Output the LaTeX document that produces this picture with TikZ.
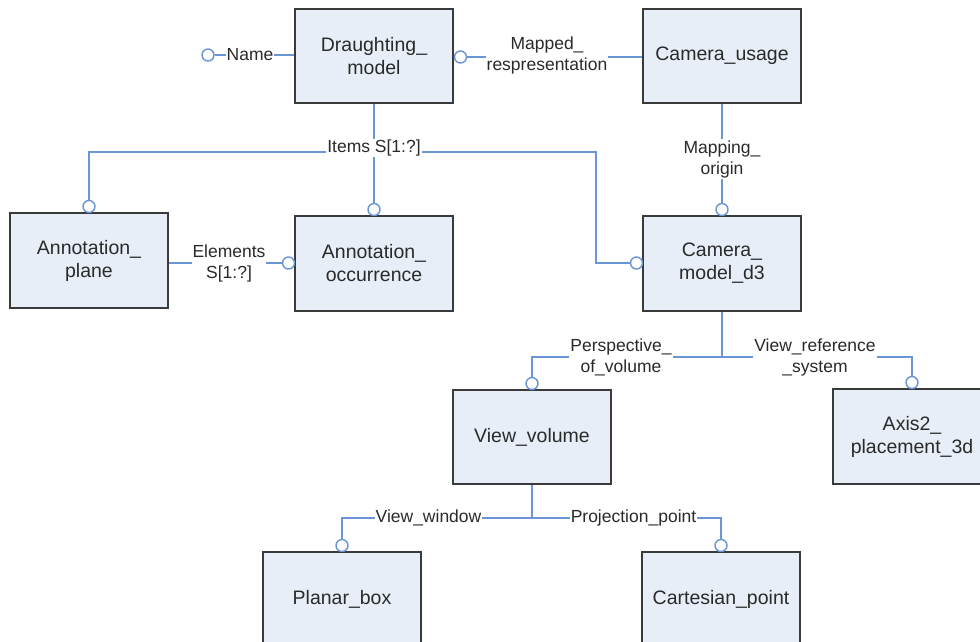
\documentclass[tikz,border=0pt]{standalone}
\usepackage{fontspec}
\setmainfont{Liberation Sans}
\definecolor{boxfill}{HTML}{E8EEF8}
\definecolor{boxline}{HTML}{3A3A3A}
\definecolor{conn}{HTML}{6A96D6}
\definecolor{txt}{HTML}{2A2A2A}
\begin{document}
\begin{tikzpicture}[x=1pt,y=-1pt,
  entity/.style={draw=boxline, fill=boxfill, line width=1.7pt, minimum width=158pt, minimum height=94pt,
    align=center, font=\fontsize{19.5}{23}\selectfont, text=txt, inner sep=0pt},
  role/.style={fill=white, inner sep=1pt, align=center, font=\fontsize{17.5}{21}\selectfont, text=txt},
  ring/.style={circle, draw=conn, fill=white, line width=1.4pt, minimum size=12pt, inner sep=0pt},
  link/.style={draw=conn, line width=1.5pt}]
\useasboundingbox (0,0) rectangle (980,641);
\clip (0,0) rectangle (980,641);
\fill[white] (0,0) rectangle (980,641);

% entities
\node[entity] (dm) at (374,56) {Draughting\_\\model};
\node[entity] (cu) at (722,56) {Camera\_usage};
\node[entity, minimum height=95pt] (ap) at (89,260.5) {Annotation\_\\plane};
\node[entity, minimum height=95pt] (ao) at (374,263.5) {Annotation\_\\occurrence};
\node[entity, minimum height=95pt] (cm) at (722,263.5) {Camera\_\\model\_d3};
\node[entity] (vv) at (532,437) {View\_volume};
\node[entity, minimum height=95pt] (ax) at (912,436.5) {Axis2\_\\placement\_3d};
\node[entity, minimum height=95pt] (pb) at (342,599.5) {Planar\_box};
\node[entity, minimum height=95pt] (cp) at (721,599.5) {Cartesian\_point};

% junction points
\coordinate (j1) at (374,152);
\coordinate (jl) at (89,152);
\coordinate (jr) at (596,152);
\coordinate (jr2) at (596,263);
\coordinate (j2) at (722,357);
\coordinate (j2l) at (532,357);
\coordinate (j2r) at (912,357);
\coordinate (j3) at (532,518);
\coordinate (j3l) at (342,518);
\coordinate (j3r) at (721,518);

% rings
\node[ring] (r1) at (208,55) {};
\node[ring] (r2) at (460.5,57) {};
\node[ring] (r3) at (89,206.5) {};
\node[ring] (r4) at (374,209.5) {};
\node[ring] (r5) at (636.5,263) {};
\node[ring] (r6) at (722,209.5) {};
\node[ring] (r7) at (288.5,263) {};
\node[ring] (r8) at (532,383.5) {};
\node[ring] (r9) at (912,382.5) {};
\node[ring] (r10) at (342,545.5) {};
\node[ring] (r11) at (721,545.5) {};

% connectors
\draw[link] (r1) -- (r1 -| dm.west);
\draw[link] (r2) -- (r2 -| cu.west);
\draw[link] (dm.south) -- (j1) -- (r4);
\draw[link] (r3) -- (jl) -- (jr) -- (jr2) -- (r5);
\draw[link] (cu.south) -- (r6);
\draw[link] (r7 -| ap.east) -- (r7);
\draw[link] (cm.south) -- (j2);
\draw[link] (r8) -- (j2l) -- (j2r) -- (r9);
\draw[link] (vv.south) -- (j3);
\draw[link] (r10) -- (j3l) -- (j3r) -- (r11);

% labels
\node[role] (lname) at (250,55) {Name};
\node[role] (lmap) at (547,55) {Mapped\_\\respresentation};
\node[role] (litems) at (374,148) {Items S[1:?]};
\node[role] (lmo) at (722,159) {Mapping\_\\origin};
\node[role] (lel) at (229,263) {Elements\\S[1:?]};
\node[role] (lpv) at (621,357) {Perspective\_\\of\_volume};
\node[role] (lvr) at (815,357) {View\_reference\\\_system};
\node[role] (lvw) at (428.5,518) {View\_window};
\node[role] (lpp) at (633.5,518) {Projection\_point};
\end{tikzpicture}
\end{document}
